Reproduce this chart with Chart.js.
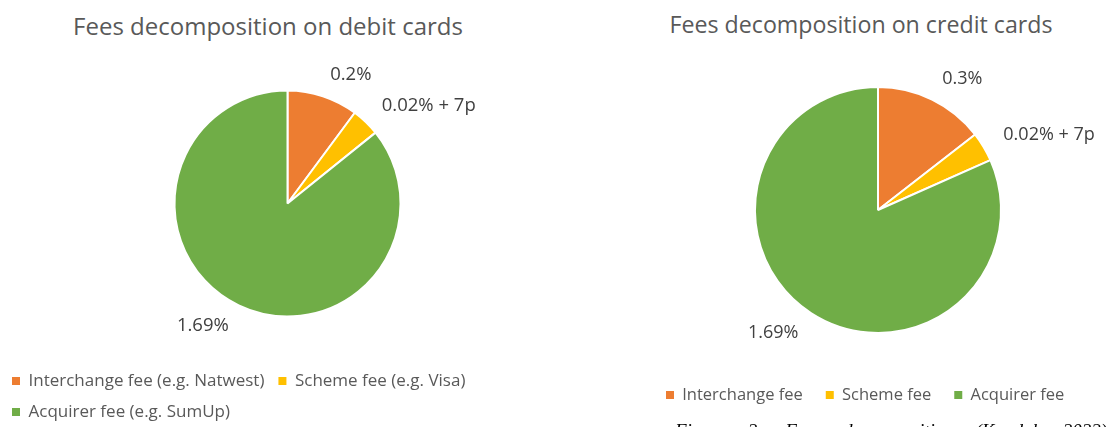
<!DOCTYPE html>
<html>
<head>
<meta charset="utf-8">
<script src="https://cdn.jsdelivr.net/npm/chart.js@4"></script>
<style>
  body { margin: 0; width: 1114px; height: 427px; overflow: hidden; background: #fff; position: relative; font-family: "Open Sans", sans-serif; }
  .title { position: absolute; color: #595959; line-height: normal; white-space: nowrap; transform: translateX(-50%); }
  .holder { position: absolute; top: 0; height: 440px; }
  .caption { position: absolute; left: 675px; top: 421px; font-family: "Liberation Serif", serif; font-style: italic; font-size: 19px; word-spacing: 17px; line-height: 1; white-space: nowrap; color: #000; }
</style>
</head>
<body>
<div class="title" style="left:268px; top:9px; font-size:24px">Fees decomposition on debit cards</div>
<div class="title" style="left:861px; top:8px; font-size:23.2px">Fees decomposition on credit cards</div>
<div class="holder" style="left:-10px; width:590px"><canvas id="chart_debit"></canvas></div>
<div class="holder" style="left:558px; width:560px"><canvas id="chart_credit"></canvas></div>
<div class="caption">Figure 2: Fees decomposition (Kaudak 2022)</div>
<script>
// data
var debitCategories = ['Interchange fee (e.g. Natwest)', 'Scheme fee (e.g. Visa)', 'Acquirer fee (e.g. SumUp)'];
var creditCategories = ['Interchange fee', 'Scheme fee', 'Acquirer fee'];
var debitValues = [0.2, 0.08, 1.69];
var creditValues = [0.3, 0.08, 1.69];
var debitLabels = ['0.2%', '0.02% + 7p', '1.69%'];
var creditLabels = ['0.3%', '0.02% + 7p', '1.69%'];
var sliceColours = ['#ED7D31', '#FFC000', '#70AD47'];

// labels outside the slice end, like excel's data labels
var outsideLabels = {
    id: 'outsideLabels',
    afterDatasetsDraw: (chart, args, options) => {
        const ctx = chart.ctx;
        const meta = chart.getDatasetMeta(0);
        const texts = chart.data.datasets[0].labelTexts;
        ctx.save();
        ctx.font = options.size + 'px "Open Sans"';
        ctx.fillStyle = '#404040';
        ctx.textBaseline = 'middle';
        meta.data.forEach((arc, i) => {
            const p = arc.getProps(['x', 'y', 'startAngle', 'endAngle', 'outerRadius'], true);
            const mid = (p.startAngle + p.endAngle) / 2;
            const d = p.outerRadius + options.gap;
            ctx.textAlign = Math.cos(mid) >= 0 ? 'left' : 'right';
            ctx.fillText(texts[i], p.x + Math.cos(mid) * d, p.y + Math.sin(mid) * d);
        });
        ctx.restore();
    }
};

function pieChart(id, categories, values, texts, radius, padding, legendPadding, legendSize, labelSize) {
    return new Chart(document.getElementById(id), {
        type: 'pie',
        data: {
            labels: categories,
            datasets: [{
                data: values,
                labelTexts: texts,
                backgroundColor: sliceColours,
                borderColor: '#ffffff',
                borderWidth: 2,
                radius: radius
            }]
        },
        options: {
            animation: false,
            responsive: true,
            maintainAspectRatio: false,
            events: [],
            layout: { padding: padding },
            plugins: {
                title: { display: false },
                tooltip: { enabled: false },
                outsideLabels: { gap: 23, size: labelSize },
                legend: {
                    position: 'bottom',
                    align: 'start',
                    labels: {
                        boxWidth: 8,
                        boxHeight: 8,
                        padding: legendPadding,
                        color: '#595959',
                        font: { family: '"Open Sans"', size: legendSize },
                        generateLabels: (chart) => {
                            const items = Chart.overrides.pie.plugins.legend.labels.generateLabels(chart);
                            items.forEach(item => { item.lineWidth = 0; });
                            return items;
                        }
                    }
                }
            }
        },
        plugins: [outsideLabels]
    });
}

var chart_debit = pieChart('chart_debit', debitCategories, debitValues, debitLabels, 113,
    { left: 8, right: 3, top: 48.5, bottom: 9.5 }, 14, 17, 18.5);
var chart_credit = pieChart('chart_credit', creditCategories, creditValues, creditLabels, 123,
    { left: 85, right: 5, top: 56.25, bottom: 26.75 }, 23, 16.5, 18);
</script>
</body>
</html>
